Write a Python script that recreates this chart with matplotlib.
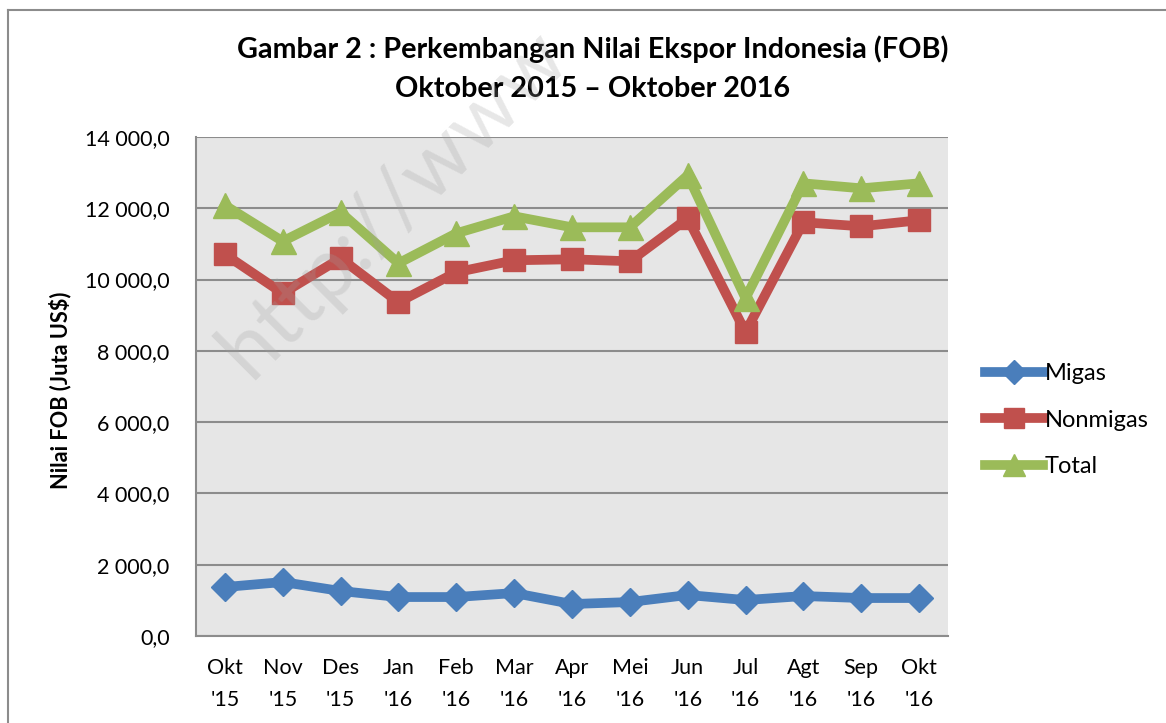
import matplotlib
matplotlib.use('Agg')
import matplotlib.pyplot as plt
from matplotlib.lines import Line2D
from matplotlib.ticker import FuncFormatter

plt.rcParams['font.family'] = ['Lato', 'DejaVu Sans']

bulan = ["Okt\n'15", "Nov\n'15", "Des\n'15", "Jan\n'16", "Feb\n'16", "Mar\n'16", "Apr\n'16",
         "Mei\n'16", "Jun\n'16", "Jul\n'16", "Agt\n'16", "Sep\n'16", "Okt\n'16"]
migas = [1374, 1514, 1262, 1093, 1093, 1205, 897, 953, 1150, 1009, 1121, 1065, 1065]
nonmigas = [10709, 9616, 10597, 9364, 10205, 10541, 10569, 10513, 11719, 8523, 11607, 11494, 11663]
total = [12083, 11074, 11887, 10457, 11298, 11775, 11466, 11466, 12924, 9476, 12700, 12560, 12700]
y_ticks = [0, 2000, 4000, 6000, 8000, 10000, 12000, 14000]

W, H = 1166, 723
fig = plt.figure(figsize=(W / 100, H / 100), dpi=100)
ax = fig.add_axes([196 / W, 1 - 636 / H, (948 - 196) / W, (636 - 137) / H])
ax.set_facecolor('#e6e6e6')

x = range(len(bulan))
ax.plot(x, migas, color='#4a7ebb', lw=7, marker='D', ms=14, label='Migas', zorder=3)
ax.plot(x, nonmigas, color='#c0504d', lw=7, marker='s', ms=16, label='Nonmigas', zorder=4)
ax.plot(x, total, color='#9bbb59', lw=7, marker='^', ms=18, label='Total', zorder=5)

ax.set_xlim(-0.5, len(bulan) - 0.5)
ax.set_ylim(0, 14000)
ax.set_yticks(y_ticks)
ax.yaxis.set_major_formatter(FuncFormatter(lambda v, p: f"{v:,.1f}".replace(',', ' ').replace('.', ',')))
ax.set_xticks(list(x))
ax.set_xticklabels(bulan, linespacing=1.75)
ax.tick_params(axis='both', length=0, labelsize=15.5)
ax.tick_params(axis='y', pad=19)
ax.tick_params(axis='x', pad=16)
ax.grid(axis='y', color='#8c8c8c', lw=1.5, zorder=1)
ax.set_axisbelow(True)
for s in ['top', 'right']:
    ax.spines[s].set_visible(False)
for s in ['left', 'bottom']:
    ax.spines[s].set_color('#8c8c8c')
    ax.spines[s].set_linewidth(1.5)

fig.text(593 / W, 1 - 69 / H, "Gambar 2 : Perkembangan Nilai Ekspor Indonesia (FOB)\nOktober 2015 \u2013 Oktober 2016",
         ha='center', va='center', fontsize=20.7, fontweight='bold', linespacing=1.6)
fig.text(60 / W, 1 - 390 / H, "Nilai FOB (Juta US$)", rotation=90, ha='center', va='center',
         fontsize=15.7, fontweight='bold')

fig.legend(loc='center left', bbox_to_anchor=(985 / W, 1 - 420 / H), frameon=False,
           fontsize=17, handlelength=2.45, handletextpad=0.08, labelspacing=1.08,
           borderpad=0, borderaxespad=0, markerscale=0.9)

# outer frame (only top and left edges visible)
fig.add_artist(Line2D([8 / W, 8 / W], [1 - 10 / H, 0], color='#8c8c8c', lw=1.5))
fig.add_artist(Line2D([8 / W, 1], [1 - 10 / H, 1 - 10 / H], color='#8c8c8c', lw=1.5))

# watermark
fig.text(250 / W, 1 - 380 / H, "http://www", rotation=45, rotation_mode='anchor',
         ha='left', va='baseline', fontsize=61, fontweight='normal', color='#a0a0a0', alpha=0.25)

fig.savefig('out.png', dpi=100)
